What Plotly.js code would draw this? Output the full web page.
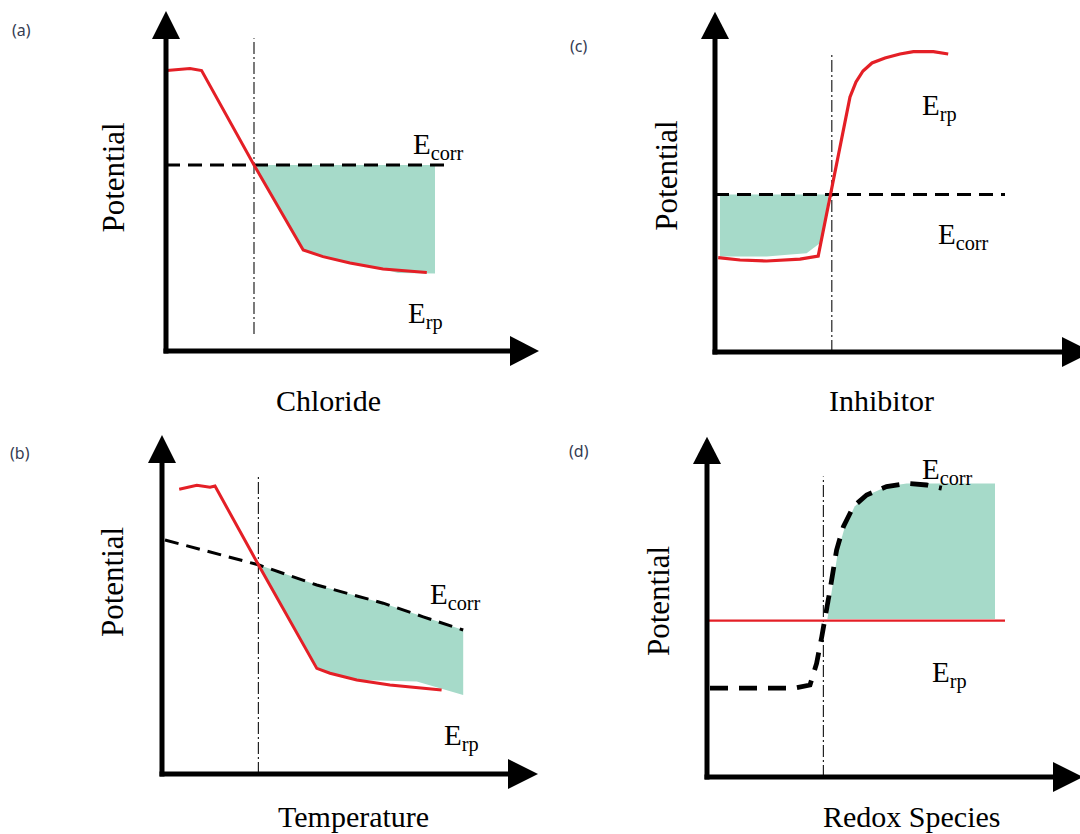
<!DOCTYPE html>
<html>
<head>
<meta charset="utf-8">
<script src="https://cdn.plot.ly/plotly-3.0.1.min.js"></script>
<style>html,body{margin:0;padding:0;background:#fff}#chart{width:1080px;height:834px}</style>
</head>
<body>
<div id="chart"></div>
<script>
// ---------- DATA (arbitrary schematic units: x = concentration/temperature, y = potential) ----------
// (a) Chloride
const aErpX   = [0.2, 3, 6, 8.9, 22, 34.3, 39.25, 46, 54.25, 65.2];
const aErpY   = [70.1, 70.4, 70.6, 70.1, 46.5, 25.25, 23.6, 22, 20.5, 19.6];
const aEcorrX = [0, 71.5];
const aEcorrY = [46.5, 46.5];
const aFillX  = [22, 67.25, 67.25, 58, 54.25, 46, 39.25, 34.3, 22];
const aFillY  = [46.5, 46.5, 19.4, 19.5, 20.5, 22, 23.6, 25.25, 46.5];
const aPitX   = [22, 22];
const aPitY   = [4.25, 78.2];

// (b) Temperature
const bErpX   = [4.3, 8.7, 12, 13.25, 24.1, 38.7, 42, 48.7, 57, 69.9];
const bErpY   = [71.2, 72.2, 71.7, 72, 52.3, 26.4, 25.2, 23.5, 22.25, 21];
const bEcorrX = [0.75, 24.1, 38.7, 55.3, 65.3, 75.3];
const bEcorrY = [58.5, 52.3, 47.25, 42.7, 39.3, 36];
const bFillX  = [24.1, 38.7, 55.3, 65.3, 75.3, 75.3, 63.7, 48.7, 42, 38.7, 24.1];
const bFillY  = [52.3, 47.25, 42.7, 39.3, 36, 19.75, 23.1, 23.5, 25.2, 26.4, 52.3];
const bPitX   = [24.1, 24.1];
const bPitY   = [0, 74.3];

// (c) Inhibitor
const cErpX   = [0.8, 6.25, 12.9, 21.25, 25.8, 27.1, 29.2, 31.25, 32.5, 33.75, 35.25, 37, 39.25, 42.5, 46.25, 49.6, 54.6, 58.3];
const cErpY   = [23.6, 23, 22.75, 23.2, 24, 30.5, 40.5, 51.3, 58, 63.75, 67.5, 70.25, 72.25, 73.5, 74.5, 75.1, 75.1, 74.5];
const cEcorrX = [0, 72.5];
const cEcorrY = [39.4, 39.4];
const cFillX  = [1.25, 28.4, 27.2, 26.2, 22.9, 12.9, 1.25];
const cFillY  = [39.4, 39.4, 31, 27.2, 24.7, 23.9, 23.9];
const cPitX   = [29.2, 29.2];
const cPitY   = [0, 74.25];

// (d) Redox Species
const dErpX   = [0, 74.5];
const dErpY   = [39.1, 39.1];
const dEcorrX = [0.75, 21.6, 25.75, 27.4, 28.7, 29.5, 30.75, 32.4, 34.1, 36.6, 39.9, 44.9, 49.9, 54.9, 58.7];
const dEcorrY = [22.2, 22.2, 23, 28.4, 35.1, 39.25, 46.75, 56.75, 62.6, 67.6, 70.5, 72.6, 73.4, 73, 72.2];
const dFillX  = [30.1, 31.2, 32.8, 34.5, 36.9, 40.2, 45, 49.9, 72, 72, 30.1];
const dFillY  = [39.5, 46.75, 56.75, 62.6, 67.6, 70.5, 72.6, 73.4, 73.4, 39.5, 39.5];
const dPitX   = [29.1, 29.1];
const dPitY   = [0, 75.1];

// Text
const panelTags   = ['(a)', '(b)', '(c)', '(d)'];
const xTitles     = ['Chloride', 'Temperature', 'Inhibitor', 'Redox Species'];
const yTitle      = 'Potential';
const ecorrLabel  = 'E<sub>corr</sub>';
const erpLabel    = 'E<sub>rp</sub>';

// ---------- LAYOUT GEOMETRY (pixels) ----------
const W = 1080, H = 834;
const XSPAN = 90, YSPAN = 85, UNIT = 4; // 1 unit = 4 px
const fx = v => v / W;
const fy = v => 1 - v / H;

const panels = [
  {ax:'', ox:166, oy:351, yTip:11,   yBase:39,  xBase:510,  xTip:539,
   tag:[21,30],  title:[328,400], tAnchor:'middle', pot:[113,177.5], ec:[411,146], er:[406,315],
   erp:[aErpX,aErpY], ecorr:[aEcorrX,aEcorrY], fill:[aFillX,aFillY], pit:[aPitX,aPitY], dW:3, dDash:'14px,8px', rW:3},
  {ax:'2', ox:162, oy:774, yTip:435, yBase:463, xBase:508,  xTip:538,
   tag:[20,453], title:[353,834], tAnchor:'bottom', pot:[112,582],   ec:[428,596], er:[442,737],
   erp:[bErpX,bErpY], ecorr:[bEcorrX,bEcorrY], fill:[bFillX,bFillY], pit:[bPitX,bPitY], dW:3, dDash:'14px,8px', rW:3},
  {ax:'3', ox:715, oy:352, yTip:11.7, yBase:39, xBase:1062, xTip:1092,
   tag:[578,46], title:[881,400], tAnchor:'middle', pot:[665.7,176], ec:[936,236], er:[920,108],
   erp:[cErpX,cErpY], ecorr:[cEcorrX,cEcorrY], fill:[cFillX,cFillY], pit:[cPitX,cPitY], dW:3, dDash:'14px,8px', rW:3.2},
  {ax:'4', ox:707, oy:777, yTip:436.7, yBase:464, xBase:1053, xTip:1083,
   tag:[579,451], title:[911,834], tAnchor:'bottom', pot:[658,601],  ec:[920,471], er:[930,674],
   erp:[dErpX,dErpY], ecorr:[dEcorrX,dEcorrY], fill:[dFillX,dFillY], pit:[dPitX,dPitY], dW:4.8, dDash:'18px,11px', rW:2.4}
];

const RED = '#e41f26', FILL = '#a6dac9', INK = '#000000';
const traces = [], shapes = [], annotations = [];
const layout = {
  width: W, height: H, margin: {l:0, r:0, t:0, b:0},
  paper_bgcolor: '#ffffff', plot_bgcolor: 'rgba(0,0,0,0)',
  showlegend: false, shapes, annotations
};

panels.forEach((p, i) => {
  const xa = 'x' + p.ax, ya = 'y' + p.ax;
  const axCfg = {visible:false, fixedrange:true, showgrid:false, zeroline:false};
  layout['xaxis' + p.ax] = Object.assign({}, axCfg, {
    domain: [fx(p.ox), fx(p.ox + XSPAN * UNIT)], range: [0, XSPAN], anchor: ya});
  layout['yaxis' + p.ax] = Object.assign({}, axCfg, {
    domain: [fy(p.oy), fy(p.oy - YSPAN * UNIT)], range: [0, YSPAN], anchor: xa});

  // shaded region
  traces.push({type:'scatter', mode:'lines', x:p.fill[0], y:p.fill[1], xaxis:xa, yaxis:ya,
    fill:'toself', fillcolor:FILL, line:{width:0, color:FILL}, hoverinfo:'skip'});
  // critical dash-dot line
  traces.push({type:'scatter', mode:'lines', x:p.pit[0], y:p.pit[1], xaxis:xa, yaxis:ya,
    line:{color:'#222', width:1.2, dash:'12px,3px,2px,3px'}, hoverinfo:'skip'});
  // Ecorr (dashed)
  traces.push({type:'scatter', mode:'lines', name:'Ecorr', x:p.ecorr[0], y:p.ecorr[1], xaxis:xa, yaxis:ya,
    line:{color:INK, width:p.dW, dash:p.dDash}, cliponaxis:false});
  // Erp (red)
  traces.push({type:'scatter', mode:'lines', name:'Erp', x:p.erp[0], y:p.erp[1], xaxis:xa, yaxis:ya,
    line:{color:RED, width:p.rW}, cliponaxis:false});

  // axes with arrowheads (paper coordinates)
  const lw = 5;
  shapes.push({type:'line', xref:'paper', yref:'paper', x0:fx(p.ox), y0:fy(p.oy + lw/2), x1:fx(p.ox), y1:fy(p.yBase),
    line:{color:INK, width:lw}});
  shapes.push({type:'line', xref:'paper', yref:'paper', x0:fx(p.ox - lw/2), y0:fy(p.oy), x1:fx(p.xBase), y1:fy(p.oy),
    line:{color:INK, width:lw}});
  const hw = 14, hh = 15;
  shapes.push({type:'path', xref:'paper', yref:'paper', fillcolor:INK, line:{width:0},
    path:`M ${fx(p.ox)} ${fy(p.yTip)} L ${fx(p.ox - hw)} ${fy(p.yBase)} L ${fx(p.ox + hw)} ${fy(p.yBase)} Z`});
  shapes.push({type:'path', xref:'paper', yref:'paper', fillcolor:INK, line:{width:0},
    path:`M ${fx(p.xTip)} ${fy(p.oy)} L ${fx(p.xBase)} ${fy(p.oy - hh)} L ${fx(p.xBase)} ${fy(p.oy + hh)} Z`});

  const serif = 'Liberation Serif, Times New Roman, serif';
  annotations.push({xref:'paper', yref:'paper', x:fx(p.tag[0]), y:fy(p.tag[1]), text:panelTags[i],
    showarrow:false, xanchor:'center', yanchor:'middle', font:{family:'Noto Sans, sans-serif', size:16, color:'#353c52'}});
  annotations.push({xref:'paper', yref:'paper', x:fx(p.title[0]), y:fy(p.title[1]), text:xTitles[i],
    showarrow:false, xanchor:'center', yanchor:p.tAnchor, borderpad:0, font:{family:serif, size:30, color:INK}});
  annotations.push({xref:'paper', yref:'paper', x:fx(p.pot[0]), y:fy(p.pot[1]), text:yTitle, textangle:-90,
    showarrow:false, xanchor:'center', yanchor:'middle', font:{family:serif, size:31, color:INK}});
  annotations.push({xref:'paper', yref:'paper', x:fx(p.ec[0]), y:fy(p.ec[1]), text:ecorrLabel,
    showarrow:false, xanchor:'left', yanchor:'middle', font:{family:serif, size:29, color:INK}});
  annotations.push({xref:'paper', yref:'paper', x:fx(p.er[0]), y:fy(p.er[1]), text:erpLabel,
    showarrow:false, xanchor:'left', yanchor:'middle', font:{family:serif, size:29, color:INK}});
});

Plotly.newPlot('chart', traces, layout, {staticPlot:true, displayModeBar:false});
</script>
</body>
</html>
